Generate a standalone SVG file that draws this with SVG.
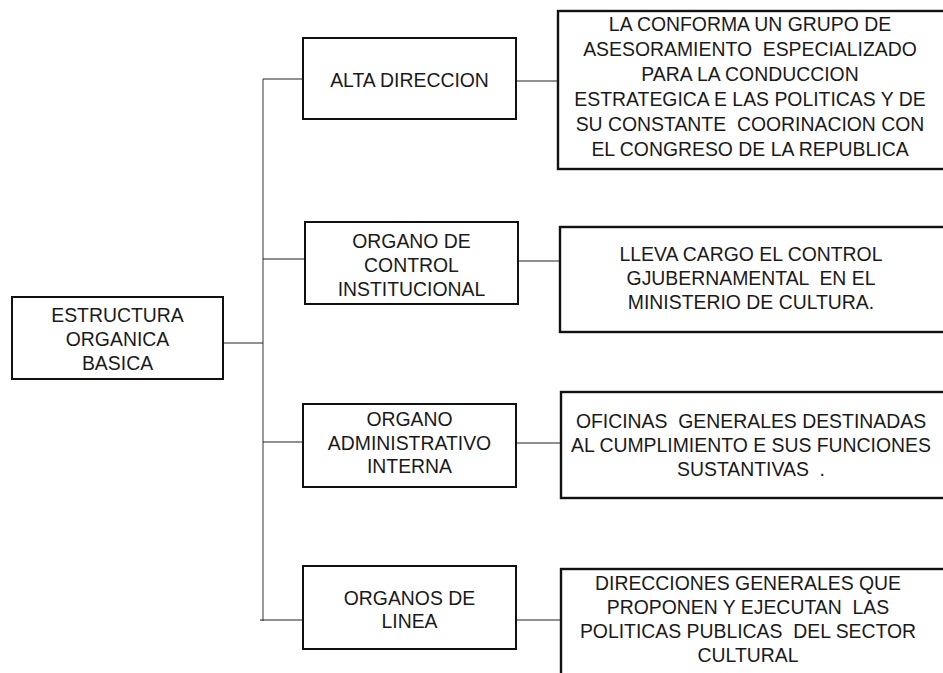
<svg xmlns="http://www.w3.org/2000/svg" width="943" height="673" viewBox="0 0 943 673">
<style>
.box{fill:#fff;stroke:#111;stroke-width:2}
.big{fill:#fff;stroke:#111;stroke-width:2.4}
text{font-family:"Liberation Sans",Arial,sans-serif;font-size:19.4px;fill:#1a1a1a;text-anchor:middle;white-space:pre}
.h{stroke:#222;stroke-width:1.2;fill:none}
.v{stroke:#777;stroke-width:1.5;fill:none}
</style>
<rect width="943" height="673" fill="#fff"/>
<g id="connectors">
<line class="v" x1="263" y1="79" x2="263" y2="621"/>
<line class="h" x1="223" y1="343" x2="263" y2="343"/>
<line class="h" x1="263" y1="79" x2="303" y2="79"/>
<line class="h" x1="263" y1="259" x2="305" y2="259"/>
<line class="h" x1="263" y1="442" x2="303" y2="442"/>
<line class="h" x1="260" y1="620" x2="303" y2="620"/>
<line class="h" x1="516" y1="81" x2="558" y2="81"/>
<line class="h" x1="518" y1="261" x2="560" y2="261"/>
<line class="h" x1="516" y1="443" x2="561" y2="443"/>
<line class="h" x1="516" y1="620" x2="561" y2="620"/>
</g>
<g id="root">
<rect class="box" x="12" y="297" width="211" height="82"/>
<text x="117.5" y="322">ESTRUCTURA</text>
<text x="117.5" y="346">ORGANICA</text>
<text x="117.5" y="370">BASICA</text>
</g>
<g id="alta">
<rect class="box" x="303" y="38" width="213" height="81"/>
<text x="409.5" y="87">ALTA DIRECCION</text>
</g>
<g id="control">
<rect class="box" x="305" y="222" width="213" height="82"/>
<text x="411.5" y="248">ORGANO DE</text>
<text x="411.5" y="272">CONTROL</text>
<text x="411.5" y="296">INSTITUCIONAL</text>
</g>
<g id="admin">
<rect class="box" x="303" y="404" width="213" height="83"/>
<text x="409.5" y="426">ORGANO</text>
<text x="409.5" y="450">ADMINISTRATIVO</text>
<text x="409.5" y="473">INTERNA</text>
</g>
<g id="linea">
<rect class="box" x="303" y="566" width="213" height="83"/>
<text x="409.5" y="605">ORGANOS DE</text>
<text x="409.5" y="628">LINEA</text>
</g>
<g id="desc-alta">
<rect class="big" x="558" y="11" width="400" height="158"/>
<text x="750" y="31">LA CONFORMA UN GRUPO DE</text>
<text x="750" y="56">ASESORAMIENTO  ESPECIALIZADO</text>
<text x="750" y="81">PARA LA CONDUCCION</text>
<text x="750" y="106">ESTRATEGICA E LAS POLITICAS Y DE</text>
<text x="750" y="131">SU CONSTANTE  COORINACION CON</text>
<text x="750" y="156">EL CONGRESO DE LA REPUBLICA</text>
</g>
<g id="desc-control">
<rect class="big" x="560" y="227" width="400" height="105"/>
<text x="751" y="261">LLEVA CARGO EL CONTROL</text>
<text x="751" y="285">GJUBERNAMENTAL  EN EL</text>
<text x="751" y="309">MINISTERIO DE CULTURA.</text>
</g>
<g id="desc-admin">
<rect class="big" x="561" y="392" width="400" height="106"/>
<text x="751" y="428">OFICINAS  GENERALES DESTINADAS</text>
<text x="751" y="452">AL CUMPLIMIENTO E SUS FUNCIONES</text>
<text x="751" y="476">SUSTANTIVAS  .</text>
</g>
<g id="desc-linea">
<rect class="big" x="561" y="569" width="400" height="120"/>
<text x="748" y="590">DIRECCIONES GENERALES QUE</text>
<text x="748" y="614">PROPONEN Y EJECUTAN  LAS</text>
<text x="748" y="638">POLITICAS PUBLICAS  DEL SECTOR</text>
<text x="748" y="662">CULTURAL</text>
</g>
</svg>
